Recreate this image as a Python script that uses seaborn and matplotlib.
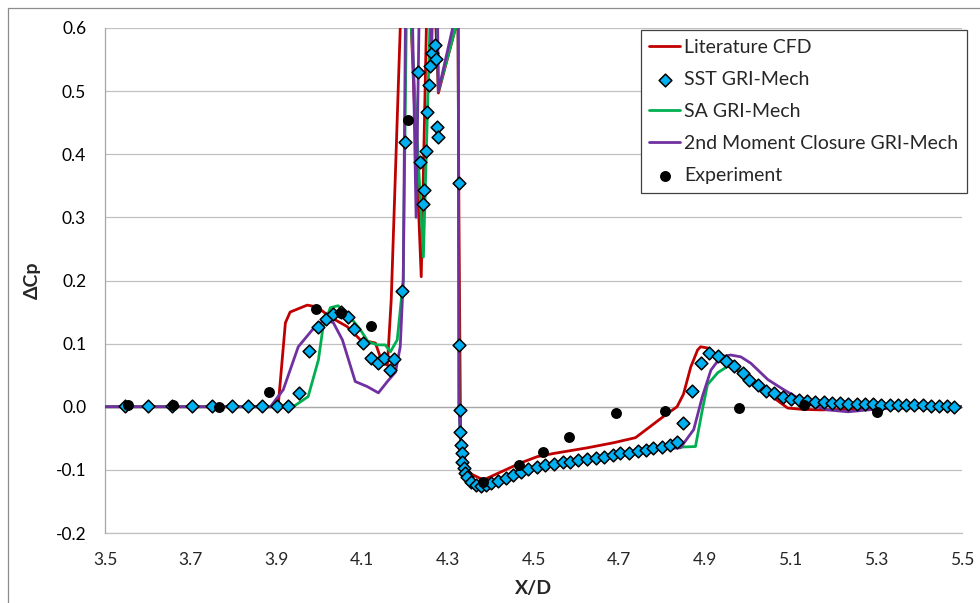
import numpy as np
import pandas as pd
import matplotlib
matplotlib.use("Agg")
import matplotlib.pyplot as plt
from matplotlib.lines import Line2D
import seaborn as sns

# ---------------- data ----------------
lit_x = [3.50, 3.904, 3.921, 3.932, 3.972, 3.995, 4.026, 4.065, 4.096, 4.131, 4.147, 4.159,
         4.168, 4.189, 4.198, 4.206, 4.238, 4.250, 4.258, 4.264, 4.278, 4.318, 4.323, 4.326,
         4.330, 4.350, 4.383, 4.470, 4.509, 4.547, 4.626, 4.687, 4.738, 4.775, 4.810, 4.835,
         4.850, 4.867, 4.883, 4.890, 4.907, 4.937, 4.984, 5.023, 5.061, 5.093, 5.124, 5.171,
         5.300, 5.500]
lit_y = [0.0, 0.0, 0.133, 0.150, 0.161, 0.158, 0.142, 0.127, 0.106, 0.101, 0.070, 0.066,
         0.170, 0.600, 0.750, 0.750, 0.206, 0.600, 0.750, 0.750, 0.497, 0.600, 0.700, 0.300,
         -0.060, -0.105, -0.116, -0.089, -0.079, -0.074, -0.065, -0.057, -0.049, -0.030, -0.012, 0.000,
         0.020, 0.063, 0.090, 0.095, 0.093, 0.074, 0.054, 0.035, 0.014, -0.002, -0.004, -0.005,
         -0.003, 0.0]

sst_x = [3.547, 3.600, 3.657, 3.703, 3.750, 3.797, 3.834, 3.867, 3.902, 3.928, 3.953, 3.977,
         3.998, 4.016, 4.033, 4.051, 4.068, 4.082, 4.103, 4.121, 4.136, 4.152, 4.164, 4.175,
         4.192, 4.199, 4.231, 4.236, 4.241, 4.245, 4.250, 4.252, 4.255, 4.259, 4.262, 4.269,
         4.273, 4.274, 4.276, 4.325, 4.326, 4.328, 4.329, 4.330, 4.332, 4.334, 4.337, 4.341,
         4.345, 4.355, 4.366, 4.378, 4.389, 4.400, 4.416, 4.435, 4.451, 4.470, 4.488, 4.509,
         4.528, 4.547, 4.568, 4.586, 4.605, 4.626, 4.645, 4.664, 4.685, 4.703, 4.722, 4.743,
         4.762, 4.780, 4.800, 4.818, 4.834, 4.850, 4.869, 4.890, 4.909, 4.930, 4.949, 4.967,
         4.988, 5.002, 5.023, 5.042, 5.061, 5.082, 5.100, 5.119, 5.138, 5.157, 5.177, 5.196,
         5.215, 5.235, 5.254, 5.273, 5.292, 5.312, 5.331, 5.350, 5.369, 5.389, 5.408, 5.427,
         5.446, 5.466, 5.481]
sst_y = [0.001, 0.001, 0.001, 0.001, 0.001, 0.001, 0.001, 0.001, 0.001, 0.001, 0.022, 0.089,
         0.127, 0.139, 0.147, 0.150, 0.142, 0.123, 0.101, 0.078, 0.070, 0.078, 0.059, 0.076,
         0.184, 0.419, 0.530, 0.388, 0.321, 0.343, 0.405, 0.467, 0.509, 0.540, 0.560, 0.573,
         0.551, 0.443, 0.427, 0.354, 0.098, -0.005, -0.040, -0.060, -0.074, -0.087, -0.097, -0.105,
         -0.111, -0.119, -0.124, -0.126, -0.124, -0.121, -0.118, -0.113, -0.108, -0.104, -0.099, -0.095,
         -0.093, -0.090, -0.088, -0.087, -0.085, -0.083, -0.081, -0.079, -0.076, -0.074, -0.073, -0.070,
         -0.068, -0.066, -0.063, -0.060, -0.056, -0.026, 0.025, 0.069, 0.085, 0.081, 0.073, 0.064,
         0.054, 0.043, 0.035, 0.025, 0.021, 0.016, 0.013, 0.011, 0.009, 0.008, 0.007, 0.006,
         0.006, 0.005, 0.005, 0.004, 0.004, 0.003, 0.003, 0.003, 0.002, 0.002, 0.002, 0.001,
         0.001, 0.001, 0.000]

sa_x = [3.50, 3.939, 3.974, 3.998, 4.009, 4.026, 4.044, 4.072, 4.096, 4.114, 4.136, 4.154,
        4.166, 4.182, 4.196, 4.203, 4.207, 4.215, 4.243, 4.258, 4.266, 4.272, 4.278, 4.318,
        4.324, 4.326, 4.332, 4.345, 4.370, 4.400, 4.450, 4.500, 4.550, 4.600, 4.650, 4.700,
        4.750, 4.800, 4.840, 4.878, 4.894, 4.906, 4.930, 4.953, 4.975, 5.000, 5.030, 5.060,
        5.100, 5.150, 5.200, 5.500]
sa_y = [0.0, 0.0, 0.016, 0.074, 0.127, 0.157, 0.160, 0.142, 0.122, 0.103, 0.098, 0.098,
        0.087, 0.106, 0.200, 0.600, 0.750, 0.600, 0.237, 0.600, 0.750, 0.750, 0.500, 0.600,
        0.700, 0.000, -0.080, -0.112, -0.126, -0.122, -0.110, -0.098, -0.091, -0.087, -0.082, -0.076,
        -0.070, -0.066, -0.064, -0.063, -0.005, 0.035, 0.054, 0.064, 0.062, 0.048, 0.033, 0.020,
        0.010, 0.004, 0.002, 0.0]

smc_x = [3.50, 3.886, 3.916, 3.951, 3.984, 4.014, 4.033, 4.054, 4.084, 4.112, 4.138, 4.159,
         4.178, 4.189, 4.196, 4.201, 4.206, 4.214, 4.226, 4.236, 4.256, 4.262, 4.268, 4.274,
         4.278, 4.318, 4.324, 4.326, 4.332, 4.345, 4.375, 4.400, 4.450, 4.500, 4.550, 4.600,
         4.650, 4.700, 4.750, 4.800, 4.843, 4.874, 4.894, 4.914, 4.937, 4.960, 4.984, 5.007,
         5.047, 5.084, 5.117, 5.147, 5.187, 5.234, 5.280, 5.350, 5.500]
smc_y = [0.0, 0.0, 0.027, 0.095, 0.122, 0.138, 0.133, 0.106, 0.040, 0.032, 0.022, 0.040,
         0.055, 0.095, 0.200, 0.600, 0.750, 0.750, 0.300, 0.750, 0.750, 0.550, 0.750, 0.750,
         0.500, 0.620, 0.750, 0.000, -0.080, -0.113, -0.128, -0.124, -0.111, -0.099, -0.093, -0.088,
         -0.083, -0.077, -0.071, -0.067, -0.065, -0.036, 0.016, 0.058, 0.079, 0.082, 0.079, 0.069,
         0.043, 0.027, 0.014, 0.003, -0.005, -0.008, -0.005, -0.001, 0.0]

exp_x = [3.554, 3.659, 3.766, 3.883, 3.993, 4.051, 4.121, 4.206, 4.381, 4.467, 4.523, 4.584,
         4.692, 4.806, 4.979, 5.131, 5.301]
exp_y = [0.003, 0.003, 0.000, 0.024, 0.155, 0.149, 0.128, 0.454, -0.119, -0.093, -0.071, -0.048,
         -0.010, -0.007, -0.002, 0.003, -0.008]

x_ticks = [3.5, 3.7, 3.9, 4.1, 4.3, 4.5, 4.7, 4.9, 5.1, 5.3, 5.5]
y_ticks = [-0.2, -0.1, 0.0, 0.1, 0.2, 0.3, 0.4, 0.5, 0.6]

# ---------------- style ----------------
sns.set_style("white")
plt.rcParams["font.family"] = ["Lato", "DejaVu Sans"]

RED = "#C00000"
BLUE = "#00B0F0"
GREEN = "#00B050"
PURPLE = "#7030A0"
GRID = "#C0C0C0"
AXIS = "#A6A6A6"

fig = plt.figure(figsize=(9.8, 6.03), dpi=100)
ax = fig.add_axes([105 / 980, 1 - 533 / 603, 857 / 980, 505 / 603])

lw = 2.0
sns.lineplot(x=lit_x, y=lit_y, ax=ax, color=RED, lw=lw, sort=False, estimator=None,
             label="Literature CFD", zorder=3)
sns.lineplot(x=sa_x, y=sa_y, ax=ax, color=GREEN, lw=lw, sort=False, estimator=None,
             label="SA GRI-Mech", zorder=3)
sns.lineplot(x=smc_x, y=smc_y, ax=ax, color=PURPLE, lw=lw, sort=False, estimator=None,
             label="2nd Moment Closure GRI-Mech", zorder=3)
sns.scatterplot(x=sst_x, y=sst_y, ax=ax, marker="D", s=42, color=BLUE, edgecolor="black",
                linewidth=1.1, label="SST GRI-Mech", zorder=4)
sns.scatterplot(x=exp_x, y=exp_y, ax=ax, marker="o", s=62, color="black", edgecolor="black",
                linewidth=0, label="Experiment", zorder=5)

ax.set_xlim(3.5, 5.5)
ax.set_ylim(-0.2, 0.6)

# horizontal gridlines only
ax.set_yticks(y_ticks)
ax.set_yticklabels([f"{v:.1f}" for v in y_ticks])
ax.yaxis.grid(True, color=GRID, lw=0.9)
ax.xaxis.grid(False)
ax.set_axisbelow(True)

for side in ["top", "right"]:
    ax.spines[side].set_visible(False)
ax.spines["left"].set_color(AXIS)
ax.spines["left"].set_linewidth(0.9)

# category axis crosses at zero: spine with tick marks, labels along the bottom
ax.spines["bottom"].set_position(("data", 0.0))
ax.spines["bottom"].set_color(AXIS)
ax.spines["bottom"].set_linewidth(0.9)
ax.set_xticks(x_ticks)
ax.tick_params(axis="x", which="both", direction="out", length=4.5, width=0.9,
               color=AXIS, labelbottom=False)
ax.tick_params(axis="y", direction="out", length=4.5, width=0.9, color=AXIS,
               labelsize=12.5, pad=9, labelcolor="#000000")

sec = ax.secondary_xaxis("bottom")
sec.set_xticks(x_ticks)
sec.set_xticklabels([f"{v:.1f}" for v in x_ticks])
sec.tick_params(length=0, labelsize=12.5, pad=14)
sec.spines["bottom"].set_color(GRID)
sec.spines["bottom"].set_linewidth(0.9)
sec.set_xlabel("X/D", fontsize=14, fontweight="bold", labelpad=8)

ax.set_xlabel("")
ax.set_ylabel("\u0394Cp", fontsize=14, fontweight="bold")
ax.yaxis.set_label_coords(-0.075, 0.5)

handles, labels = ax.get_legend_handles_labels()
order = ["Literature CFD", "SST GRI-Mech", "SA GRI-Mech", "2nd Moment Closure GRI-Mech", "Experiment"]
hmap = dict(zip(labels, handles))
leg = ax.legend([hmap[k] for k in order], order, loc="upper right",
                bbox_to_anchor=(1.006, 0.996), borderaxespad=0, fontsize=14,
                frameon=True, fancybox=False, edgecolor="#404040", framealpha=1,
                handlelength=1.6, handletextpad=0.2, labelspacing=0.78,
                borderpad=0.45)
leg.get_frame().set_linewidth(0.9)

# chart area border
fig.add_artist(Line2D([8 / 980, 8 / 980], [0, 1 - 8 / 603], transform=fig.transFigure,
                      color="#8C8C8C", lw=0.9))
fig.add_artist(Line2D([8 / 980, 1], [1 - 8 / 603, 1 - 8 / 603], transform=fig.transFigure,
                      color="#8C8C8C", lw=0.9))

fig.savefig("out.png", dpi=100)
